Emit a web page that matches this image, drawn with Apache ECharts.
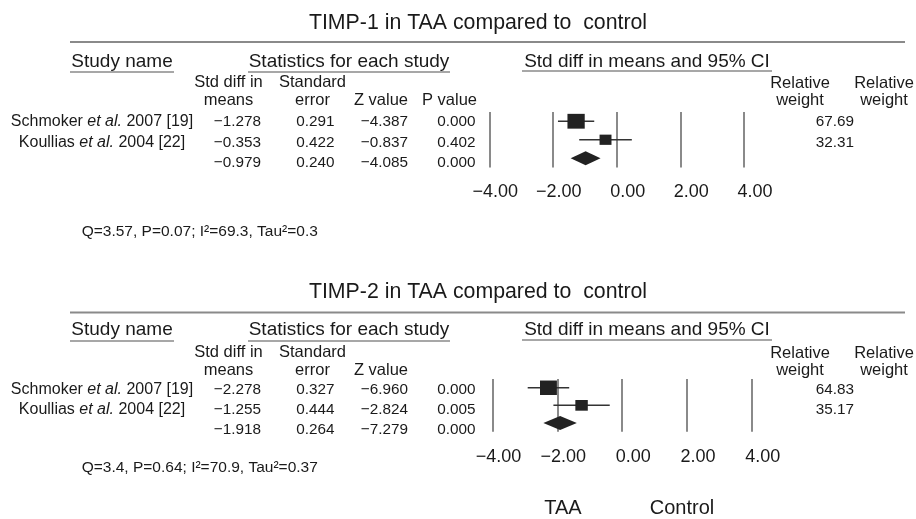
<!DOCTYPE html>
<html><head><meta charset="utf-8">
<script src="https://cdn.jsdelivr.net/npm/echarts@6/dist/echarts.min.js"></script>
<style>html,body{margin:0;padding:0;background:#fff}#c{width:916px;height:519px}</style>
</head><body><div id="c"></div>
<script>
// ---------- DATA ----------
const studyAuthors = ['Schmoker', 'Koullias'];
const studyYears = ['2007 [19]', '2004 [22]'];
const axisTicks = [-4, -2, 0, 2, 4];
const groupLabels = ['TAA', 'Control'];

const p1Title = 'TIMP-1 in TAA compared to  control';
const p1Mean = [-1.278, -0.353, -0.979];      // last = pooled
const p1SE = [0.291, 0.422, 0.240];
const p1Z = [-4.387, -0.837, -4.085];
const p1P = [0.000, 0.402, 0.000];
const p1Low = [-1.848, -1.180, -1.449];
const p1High = [-0.708, 0.474, -0.509];
const p1Weight = [67.69, 32.31];
const p1Het = 'Q=3.57, P=0.07; I\u00b2=69.3, Tau\u00b2=0.3';

const p2Title = 'TIMP-2 in TAA compared to  control';
const p2Mean = [-2.278, -1.255, -1.918];
const p2SE = [0.327, 0.444, 0.264];
const p2Z = [-6.960, -2.824, -7.279];
const p2P = [0.000, 0.005, 0.000];
const p2Low = [-2.919, -2.125, -2.435];
const p2High = [-1.637, -0.385, -1.401];
const p2Weight = [64.83, 35.17];
const p2Het = 'Q=3.4, P=0.64; I\u00b2=70.9, Tau\u00b2=0.37';

// ---------- LAYOUT ----------
const FF = 'Liberation Sans, Arial, Helvetica, sans-serif';
const TXT = '#1a1a1a';
const panels = [
  {title: p1Title, mean: p1Mean, se: p1SE, z: p1Z, p: p1P, lo: p1Low, hi: p1High, w: p1Weight, het: p1Het,
   L: {titleY: 23, ruleY: 42, headY: 62, headLineY: 72, h1Y: 82, h2Y: 100, rowY: [122, 143, 163], qY: 232,
       gridTop: 112, gridH: 55.5, gridLeft: 489.5, gridW: 254.5, pHeader: true}},
  {title: p2Title, mean: p2Mean, se: p2SE, z: p2Z, p: p2P, lo: p2Low, hi: p2High, w: p2Weight, het: p2Het,
   L: {titleY: 292, ruleY: 312.5, headY: 330, headLineY: 341, h1Y: 352, h2Y: 370, rowY: [390, 409.5, 429.5], qY: 468,
       gridTop: 379, gridH: 52.7, gridLeft: 492.7, gridW: 259, pHeader: false}}
];
const COL = {name: 102, mean: 261, se: 334.5, z: 408, p: 475.5, wt: 854, rel1: 800, rel2: 884};

function fmt(v, d) { return (v < 0 ? '\u2212' : '') + Math.abs(v).toFixed(d); }
function txt(x, y, text, size, align, extra) {
  return Object.assign({type: 'text', x: x, y: y, silent: true,
    style: {text: text, font: size + 'px ' + FF, fill: TXT, textAlign: align || 'center', textVerticalAlign: 'middle'}}, extra || {});
}
function hline(x1, x2, y, color, w) {
  return {type: 'line', silent: true, shape: {x1: x1, y1: y, x2: x2, y2: y}, style: {stroke: color, lineWidth: w}};
}

const graphics = [];
const grids = [], xAxes = [], yAxes = [], series = [];
panels.forEach(function (P, i) {
  const L = P.L;
  graphics.push(txt(478, L.titleY, P.title, 21.3));
  graphics.push(hline(70, 905, L.ruleY, '#8a8a8a', 2));
  graphics.push(txt(122, L.headY, 'Study name', 19));
  graphics.push(hline(70, 174, L.headLineY, '#8a8a8a', 1.5));
  graphics.push(txt(349, L.headY, 'Statistics for each study', 19));
  graphics.push(hline(248, 450, L.headLineY, '#8a8a8a', 1.5));
  graphics.push(txt(647, L.headY, 'Std diff in means and 95% CI', 19));
  graphics.push(hline(522, 772, L.headLineY - 1, '#8a8a8a', 1.5));
  graphics.push(txt(228.5, L.h1Y, 'Std diff in', 16.5));
  graphics.push(txt(228.5, L.h2Y, 'means', 16.5));
  graphics.push(txt(312.5, L.h1Y, 'Standard', 16.5));
  graphics.push(txt(312.5, L.h2Y, 'error', 16.5));
  graphics.push(txt(COL.z, L.h2Y, 'Z value', 16.5, 'right'));
  if (L.pHeader) graphics.push(txt(477, L.h2Y, 'P value', 16.5, 'right'));
  graphics.push(txt(COL.rel1, L.h1Y + 1.5, 'Relative', 16.5));
  graphics.push(txt(COL.rel1, L.h2Y, 'weight', 16.5));
  graphics.push(txt(COL.rel2, L.h1Y + 1.5, 'Relative', 16.5));
  graphics.push(txt(COL.rel2, L.h2Y, 'weight', 16.5));
  for (let r = 0; r < 3; r++) {
    const y = L.rowY[r];
    if (r < 2) {
      graphics.push({type: 'text', x: COL.name, y: y, silent: true, style: {
        text: '{n|' + studyAuthors[r] + ' }{i|et al.}{n| ' + studyYears[r] + '}',
        textAlign: 'center', textVerticalAlign: 'middle', fill: TXT,
        rich: {n: {font: '16px ' + FF, fill: TXT}, i: {font: 'italic 16px ' + FF, fill: TXT}}}});
      graphics.push(txt(COL.wt, y, P.w[r].toFixed(2), 15.3, 'right'));
    }
    graphics.push(txt(COL.mean, y, fmt(P.mean[r], 3), 15.3, 'right'));
    graphics.push(txt(COL.se, y, fmt(P.se[r], 3), 15.3, 'right'));
    graphics.push(txt(COL.z, y, fmt(P.z[r], 3), 15.3, 'right'));
    graphics.push(txt(COL.p, y, fmt(P.p[r], 3), 15.3, 'right'));
  }
  graphics.push(txt(81.7, L.qY, P.het, 15.5, 'left'));

  grids.push({left: L.gridLeft, top: L.gridTop, width: L.gridW, height: L.gridH, containLabel: false});
  xAxes.push({gridIndex: i, type: 'value', min: axisTicks[0], max: axisTicks[axisTicks.length - 1],
    interval: axisTicks[1] - axisTicks[0],
    axisLine: {show: false}, axisTick: {show: false},
    splitLine: {show: true, lineStyle: {color: '#8a8a8a', width: 2}},
    axisLabel: {margin: 16, color: TXT, fontSize: 18, fontFamily: FF, align: 'center',
      formatter: function (v) { return '{a|' + fmt(v, 2) + '}'; },
      rich: {a: {width: 57, align: 'right', fontSize: 18, fontFamily: FF, color: TXT}}}});
  yAxes.push({gridIndex: i, type: 'category', data: ['0', '1', '2'], inverse: true, show: false});

  const studyData = P.w.map(function (w, r) { return [P.mean[r], r, P.lo[r], P.hi[r], w]; });
  series.push({type: 'custom', xAxisIndex: i, yAxisIndex: i, silent: true, data: studyData,
    renderItem: function (params, api) {
      const row = api.value(1);
      const c = api.coord([api.value(0), row]);
      const lo = api.coord([api.value(2), row]);
      const hi = api.coord([api.value(3), row]);
      const s = Math.sqrt(api.value(4));
      const sw = 2.1 * s, sh = 1.8 * s;
      return {type: 'group', children: [
        {type: 'line', shape: {x1: lo[0], y1: c[1], x2: hi[0], y2: c[1]}, style: {stroke: '#333', lineWidth: 1.5}},
        {type: 'rect', shape: {x: c[0] - sw / 2, y: c[1] - sh / 2, width: sw, height: sh}, style: {fill: '#222'}}
      ]};
    }});
  series.push({type: 'custom', xAxisIndex: i, yAxisIndex: i, silent: true,
    data: [[P.mean[2], 2, P.lo[2], P.hi[2]]],
    renderItem: function (params, api) {
      const row = api.value(1);
      const c = api.coord([api.value(0), row]);
      const lo = api.coord([api.value(2), row]);
      const hi = api.coord([api.value(3), row]);
      return {type: 'polygon', shape: {points: [[lo[0], c[1]], [c[0], c[1] - 7], [hi[0], c[1]], [c[0], c[1] + 7]]},
        style: {fill: '#222'}};
    }});
});
graphics.push(txt(563, 508, groupLabels[0], 20));
graphics.push(txt(682, 508, groupLabels[1], 20));

const chart = echarts.init(document.getElementById('c'), null, {renderer: 'canvas'});
chart.setOption({
  backgroundColor: '#fff', animation: false,
  grid: grids, xAxis: xAxes, yAxis: yAxes, series: series,
  graphic: {elements: graphics}
});
</script></body></html>
